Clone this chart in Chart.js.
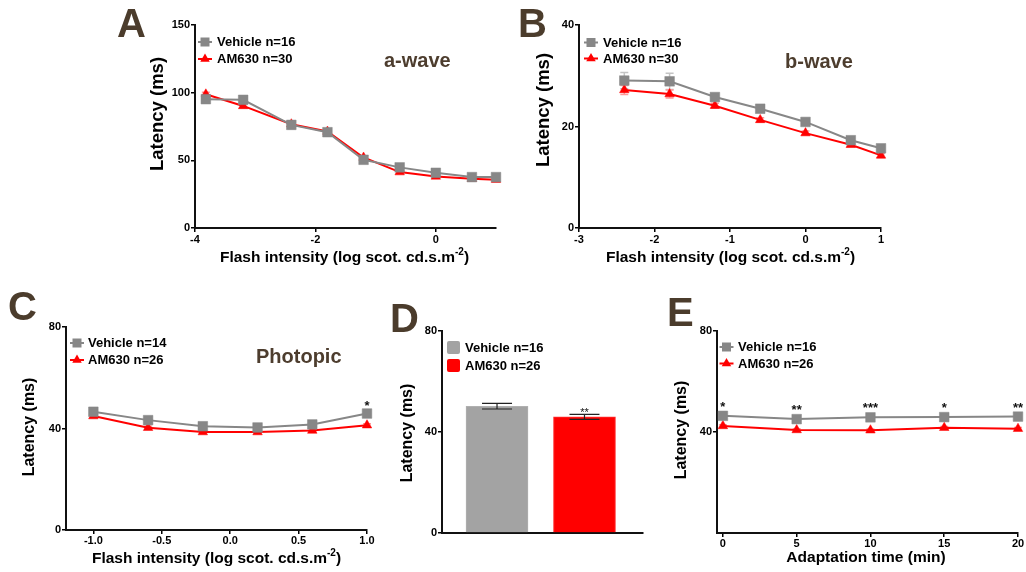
<!DOCTYPE html>
<html><head><meta charset="utf-8">
<script src="https://cdn.jsdelivr.net/npm/chart.js@4.4.1/dist/chart.umd.min.js"></script>
<style>
html,body{margin:0;padding:0;background:#fff;}
body{width:1026px;height:572px;position:relative;overflow:hidden;}
canvas{position:absolute;}
</style></head><body>
<canvas id="cA" width="420" height="280" style="left:100px;top:0px"></canvas>
<canvas id="cB" width="400" height="280" style="left:520px;top:0px"></canvas>
<canvas id="cC" width="390" height="282" style="left:0px;top:290px"></canvas>
<canvas id="cD" width="280" height="282" style="left:380px;top:290px"></canvas>
<canvas id="cE" width="366" height="282" style="left:660px;top:290px"></canvas>
<script>
// ---------------- DATA ----------------
// Panel A: scotopic a-wave latency
const aX = [-3.82, -3.2, -2.4, -1.8, -1.2, -0.6, 0, 0.6, 1.0];
const aVehicle = [95.2, 94.7, 76.2, 70.8, 50.4, 44.8, 40.8, 37.6, 37.6];
const aVehicleErr = [3.0, 2.0, 3.0, 2.5, 1.5, 1.5, 1.5, 1.2, 1.2];
const aAM630 = [98.8, 90.2, 76.7, 71.3, 52.1, 41.3, 38.1, 36.4, 35.7];
const aAM630Err = [1.5, 1.5, 1.5, 1.5, 1.0, 1.0, 1.0, 1.0, 1.0];
const aXTicks = [-4, -2, 0];
const aYTicks = [0, 50, 100, 150];

// Panel B: scotopic b-wave latency
const bX = [-2.4, -1.8, -1.2, -0.6, 0, 0.6, 1];
const bVehicle = [29.05, 28.9, 25.8, 23.5, 20.9, 17.3, 15.7];
const bVehicleErr = [1.6, 1.6, 0.6, 0.5, 0.5, 0.4, 0.4];
const bAM630 = [27.2, 26.4, 24.1, 21.3, 18.7, 16.4, 14.3];
const bAM630Err = [0.9, 0.8, 0.5, 0.4, 0.4, 0.4, 0.4];
const bXTicks = [-3, -2, -1, 0, 1];
const bYTicks = [0, 20, 40];

// Panel C: photopic latency
const cX = [-1.0, -0.6, -0.2, 0.2, 0.6, 1.0];
const cVehicle = [46.6, 43.3, 40.9, 40.4, 41.6, 45.9];
const cVehicleErr = [1.6, 0.8, 0.8, 0.8, 0.8, 0.8];
const cAM630 = [44.9, 40.3, 38.6, 38.6, 39.2, 41.3];
const cAM630Err = [0.6, 0.6, 0.6, 0.6, 0.6, 0.6];
const cStars = ['', '', '', '', '', '*'];
const cXTicks = [-1.0, -0.5, 0.0, 0.5, 1.0];
const cYTicks = [0, 40, 80];

// Panel D: bars
const dCategories = ['Vehicle n=16', 'AM630 n=26'];
const dValues = [50.2, 46.0];
const dErr = [1.1, 1.0];
const dStars = ['', '**'];
const dYTicks = [0, 40, 80];

// Panel E: adaptation time
const eX = [0, 5, 10, 15, 20];
const eVehicle = [46.4, 45.1, 45.8, 45.9, 46.1];
const eVehicleErr = [0.5, 0.5, 0.5, 0.5, 0.5];
const eAM630 = [42.4, 40.8, 40.7, 41.7, 41.3];
const eAM630Err = [0.5, 0.5, 0.5, 0.5, 0.5];
const eStars = ['*', '**', '***', '*', '**'];
const eXTicks = [0, 5, 10, 15, 20];
const eYTicks = [40, 80];

// ---------------- STYLE ----------------
const FONT = '"Liberation Sans", Arial, Helvetica, sans-serif';
const BROWN = '#4b3c2c';
const GRAY = '#878787';
const RED = '#ff0000';
const BARGRAY = '#a3a3a3';

function pts(xs, ys) { return xs.map((x, i) => ({x: x, y: ys[i]})); }

function vehicleDs(xs, ys) {
  return {label: 'Vehicle', data: pts(xs, ys), borderColor: GRAY, borderWidth: 2,
    pointStyle: 'rect', pointRadius: 6.8, pointBackgroundColor: GRAY, pointBorderColor: GRAY,
    pointBorderWidth: 0.5, tension: 0, clip: false, order: 0};
}
function am630Ds(xs, ys) {
  return {label: 'AM630', data: pts(xs, ys), borderColor: RED, borderWidth: 2,
    pointStyle: 'triangle', pointRadius: 5.5, pointBackgroundColor: RED, pointBorderColor: RED,
    pointBorderWidth: 0.5, tension: 0, clip: false, order: 1};
}

function drawErrors(chart, p) {
  const ctx = chart.ctx, xs = chart.scales.x, ys = chart.scales.y;
  p.errors.forEach(e => {
    ctx.save();
    ctx.strokeStyle = e.color; ctx.lineWidth = e.lw || 1.5;
    e.x.forEach((xv, i) => {
      const px = xs.getPixelForValue(xv);
      const y1 = ys.getPixelForValue(e.v[i] + e.err[i]);
      const y2 = ys.getPixelForValue(e.v[i] - e.err[i]);
      const hw = e.cap / 2;
      ctx.beginPath();
      ctx.moveTo(px, y1); ctx.lineTo(px, y2);
      ctx.moveTo(px - hw, y1); ctx.lineTo(px + hw, y1);
      ctx.moveTo(px - hw, y2); ctx.lineTo(px + hw, y2);
      ctx.stroke();
    });
    ctx.restore();
  });
}

function drawStars(chart, p) {
  const ctx = chart.ctx, xs = chart.scales.x, ys = chart.scales.y, s = p.stars;
  ctx.save();
  ctx.fillStyle = '#111'; ctx.font = s.font; ctx.textAlign = 'center'; ctx.textBaseline = 'alphabetic';
  s.labels.forEach((t, i) => {
    if (!t) return;
    ctx.fillText(t, xs.getPixelForValue(s.x[i]), ys.getPixelForValue(s.v[i]) - s.off);
  });
  ctx.restore();
}

function drawDecor(chart, p) {
  const ctx = chart.ctx, ox = p.box.l, oy = p.box.t;
  ctx.save();
  ctx.textBaseline = 'alphabetic';
  // panel letter
  ctx.fillStyle = BROWN; ctx.font = 'bold 40px ' + FONT; ctx.textAlign = 'left';
  ctx.fillText(p.letter.t, p.letter.x - ox, p.letter.y - oy);
  // panel title
  if (p.title) {
    ctx.font = 'bold 20px ' + FONT; ctx.fillStyle = '#4d3d2e';
    ctx.fillText(p.title.t, p.title.x - ox, p.title.y - oy);
  }
  // legend
  const L = p.legend;
  L.items.forEach((it, i) => {
    const cx = L.x - ox, cy = L.y - oy + i * L.dy;
    ctx.fillStyle = it.color; ctx.strokeStyle = it.color;
    if (it.kind === 'box') {
      ctx.beginPath();
      if (ctx.roundRect) ctx.roundRect(cx - 6.5, cy - 6.5, 13, 13, 2); else ctx.rect(cx - 6.5, cy - 6.5, 13, 13);
      ctx.fill();
    } else {
      ctx.lineWidth = 2;
      ctx.beginPath(); ctx.moveTo(cx - 7, cy); ctx.lineTo(cx + 7, cy); ctx.stroke();
      ctx.beginPath();
      if (it.kind === 'rect') {
        ctx.rect(cx - 4.5, cy - 4.5, 9, 9);
      } else {
        const r = 5.5;
        ctx.moveTo(cx, cy - r);
        ctx.lineTo(cx + r * 0.866, cy + r * 0.5);
        ctx.lineTo(cx - r * 0.866, cy + r * 0.5);
        ctx.closePath();
      }
      ctx.fill();
    }
    ctx.fillStyle = '#000'; ctx.font = 'bold 13px ' + FONT; ctx.textAlign = 'left'; ctx.textBaseline = 'middle';
    ctx.fillText(it.text, L.tx - ox, cy + 0.5);
    ctx.textBaseline = 'alphabetic';
  });
  // y title
  ctx.save();
  ctx.translate(p.yTitle.x - ox, p.yTitle.y - oy);
  ctx.rotate(-Math.PI / 2);
  ctx.fillStyle = '#000'; ctx.font = 'bold ' + p.yTitle.size + 'px ' + FONT; ctx.textAlign = 'center'; ctx.textBaseline = 'middle';
  ctx.fillText(p.yTitle.t, 0, 0);
  ctx.restore();
  // x title (with optional superscript)
  if (p.xTitle) {
    const X = p.xTitle;
    const f1 = 'bold ' + X.size + 'px ' + FONT, f2 = 'bold ' + Math.round(X.size * 0.62) + 'px ' + FONT;
    ctx.fillStyle = '#000'; ctx.textAlign = 'left'; ctx.textBaseline = 'alphabetic';
    ctx.font = f1; const w1 = ctx.measureText(X.t).width; const w3 = X.tail ? ctx.measureText(X.tail).width : 0;
    ctx.font = f2; const w2 = X.sup ? ctx.measureText(X.sup).width : 0;
    let x0 = X.x - ox - (w1 + w2 + w3) / 2; const by = X.y - oy;
    ctx.font = f1; ctx.fillText(X.t, x0, by); x0 += w1;
    if (X.sup) { ctx.font = f2; ctx.fillText(X.sup, x0, by - X.size * 0.42); x0 += w2; }
    if (X.tail) { ctx.font = f1; ctx.fillText(X.tail, x0, by); }
  }
  ctx.restore();
}

function axisBase() {
  return {
    grid: {display: true, drawOnChartArea: false, drawTicks: true, tickLength: 4, color: '#000', lineWidth: 1.5},
    border: {display: true, color: '#111', width: 2},
    ticks: {color: '#000', font: {family: FONT, weight: 'bold', size: 11}, padding: 1, autoSkip: false, maxRotation: 0}
  };
}

function makePanel(p) {
  const box = p.box, area = p.area;
  const plugin = {
    id: 'decor' + p.id,
    beforeDatasetsDraw(chart) { if (p.errors && p.errorsBelow) drawErrors(chart, p); },
    afterDatasetsDraw(chart) { if (p.errors && !p.errorsBelow) drawErrors(chart, p); if (p.stars) drawStars(chart, p); },
    afterDraw(chart) { drawDecor(chart, p); }
  };
  const xa = axisBase(), ya = axisBase();
  Object.assign(xa, {type: 'linear', min: p.x.min, max: p.x.max, offset: false,
    afterFit: s => { s.height = box.t + box.h - area.b; },
    afterBuildTicks: s => { s.ticks = p.x.ticks.map(v => ({value: v})); }});
  xa.ticks.callback = v => (p.x.fmt ? p.x.fmt(v) : String(v));
  xa.ticks.padding = p.x.pad !== undefined ? p.x.pad : 1;
  if (p.x.hide) { xa.ticks.display = false; xa.grid.drawTicks = false; }
  Object.assign(ya, {type: 'linear', min: p.y.min, max: p.y.max,
    afterFit: s => { s.width = area.l - box.l; },
    afterBuildTicks: s => { s.ticks = p.y.ticks.map(v => ({value: v})); }});
  ya.ticks.callback = v => String(v);
  new Chart(document.getElementById(p.id), {
    type: p.type,
    data: {datasets: p.datasets},
    options: {
      responsive: false, animation: false, events: [],
      layout: {padding: {left: 0, top: area.t - box.t, right: box.l + box.w - area.r, bottom: 0}},
      plugins: {legend: {display: false}, tooltip: {enabled: false}},
      scales: {x: xa, y: ya}
    },
    plugins: [plugin]
  });
}

const flashTitle = {t: 'Flash intensity (log scot. cd.s.m', sup: '-2', tail: ')', size: 15.5};

// ---------------- PANELS ----------------
makePanel({
  id: 'cA', type: 'line', box: {l: 100, t: 0, w: 420, h: 280}, area: {l: 195, t: 25, r: 496, b: 228},
  x: {min: -4, max: 1, ticks: aXTicks}, y: {min: 0, max: 150, ticks: aYTicks},
  datasets: [vehicleDs(aX, aVehicle), am630Ds(aX, aAM630)],
  errorsBelow: true,
  errors: [{x: aX, v: aVehicle, err: aVehicleErr, color: '#c4c4c4', cap: 8},
           {x: aX, v: aAM630, err: aAM630Err, color: '#ff9a9a', cap: 8}],
  letter: {t: 'A', x: 117, y: 37}, title: {t: 'a-wave', x: 384, y: 67},
  legend: {x: 205, y: 42, dy: 17, tx: 217, items: [{kind: 'rect', color: GRAY, text: 'Vehicle n=16'}, {kind: 'tri', color: RED, text: 'AM630 n=30'}]},
  yTitle: {t: 'Latency (ms)', x: 158, y: 114, size: 18.5},
  xTitle: Object.assign({x: 344.5, y: 262}, flashTitle)
});

makePanel({
  id: 'cB', type: 'line', box: {l: 520, t: 0, w: 400, h: 280}, area: {l: 579, t: 25, r: 881, b: 228},
  x: {min: -3, max: 1, ticks: bXTicks}, y: {min: 0, max: 40, ticks: bYTicks},
  datasets: [vehicleDs(bX, bVehicle), am630Ds(bX, bAM630)],
  errorsBelow: true,
  errors: [{x: bX, v: bVehicle, err: bVehicleErr, color: '#c4c4c4', cap: 8},
           {x: bX, v: bAM630, err: bAM630Err, color: '#ff9a9a', cap: 8}],
  letter: {t: 'B', x: 518, y: 37}, title: {t: 'b-wave', x: 785, y: 68},
  legend: {x: 591, y: 42.5, dy: 16, tx: 603, items: [{kind: 'rect', color: GRAY, text: 'Vehicle n=16'}, {kind: 'tri', color: RED, text: 'AM630 n=30'}]},
  yTitle: {t: 'Latency (ms)', x: 544, y: 110, size: 18.5},
  xTitle: Object.assign({x: 730.5, y: 262}, flashTitle)
});

makePanel({
  id: 'cC', type: 'line', box: {l: 0, t: 290, w: 390, h: 282}, area: {l: 66, t: 327, r: 367, b: 530},
  x: {min: -1.2, max: 1.0, ticks: cXTicks, fmt: v => v.toFixed(1), pad: 0}, y: {min: 0, max: 80, ticks: cYTicks},
  datasets: [vehicleDs(cX, cVehicle), am630Ds(cX, cAM630)],
  errorsBelow: true,
  errors: [{x: cX, v: cVehicle, err: cVehicleErr, color: '#c4c4c4', cap: 8},
           {x: cX, v: cAM630, err: cAM630Err, color: '#ff9a9a', cap: 8}],
  stars: {x: cX, v: cVehicle, labels: cStars, font: 'bold 13px ' + FONT, off: 4},
  letter: {t: 'C', x: 8, y: 320}, title: {t: 'Photopic', x: 256, y: 363},
  legend: {x: 77, y: 343, dy: 17, tx: 88, items: [{kind: 'rect', color: GRAY, text: 'Vehicle n=14'}, {kind: 'tri', color: RED, text: 'AM630 n=26'}]},
  yTitle: {t: 'Latency (ms)', x: 30, y: 427, size: 16},
  xTitle: Object.assign({x: 216.5, y: 563}, flashTitle)
});

makePanel({
  id: 'cD', type: 'bar', box: {l: 380, t: 290, w: 280, h: 282}, area: {l: 442, t: 331, r: 643, b: 533},
  x: {min: -0.629, max: 1.669, ticks: [], hide: true}, y: {min: 0, max: 80, ticks: dYTicks},
  datasets: [{label: 'Latency', data: dValues.map((v, i) => ({x: i, y: v})), backgroundColor: [BARGRAY, RED],
    borderColor: ['#b0b0b0', '#ff3030'], borderWidth: 1, barThickness: 62}],
  errorsBelow: false,
  errors: [{x: [0, 1], v: dValues, err: dErr, color: '#222', cap: 30, lw: 1.2}],
  stars: {x: [0, 1], v: dValues, labels: dStars, font: '11px ' + FONT, off: 1},
  letter: {t: 'D', x: 390, y: 332},
  legend: {x: 453.5, y: 347.5, dy: 18, tx: 465, items: [{kind: 'box', color: BARGRAY, text: dCategories[0]}, {kind: 'box', color: RED, text: dCategories[1]}]},
  yTitle: {t: 'Latency (ms)', x: 407.5, y: 433, size: 16}
});

makePanel({
  id: 'cE', type: 'line', box: {l: 660, t: 290, w: 366, h: 282}, area: {l: 717, t: 331, r: 1018, b: 533},
  x: {min: -0.4, max: 20, ticks: eXTicks, pad: 0}, y: {min: 0, max: 80, ticks: eYTicks},
  datasets: [vehicleDs(eX, eVehicle), am630Ds(eX, eAM630)],
  errorsBelow: true,
  errors: [{x: eX, v: eVehicle, err: eVehicleErr, color: '#c4c4c4', cap: 8},
           {x: eX, v: eAM630, err: eAM630Err, color: '#ff9a9a', cap: 8}],
  stars: {x: eX, v: eVehicle, labels: eStars, font: 'bold 13px ' + FONT, off: 5},
  letter: {t: 'E', x: 667, y: 326},
  legend: {x: 726.5, y: 347, dy: 16.5, tx: 738, items: [{kind: 'rect', color: GRAY, text: 'Vehicle n=16'}, {kind: 'tri', color: RED, text: 'AM630 n=26'}]},
  yTitle: {t: 'Latency (ms)', x: 682, y: 430, size: 16},
  xTitle: {t: 'Adaptation time (min)', x: 866, y: 562, size: 15.5}
});
</script>
</body></html>
